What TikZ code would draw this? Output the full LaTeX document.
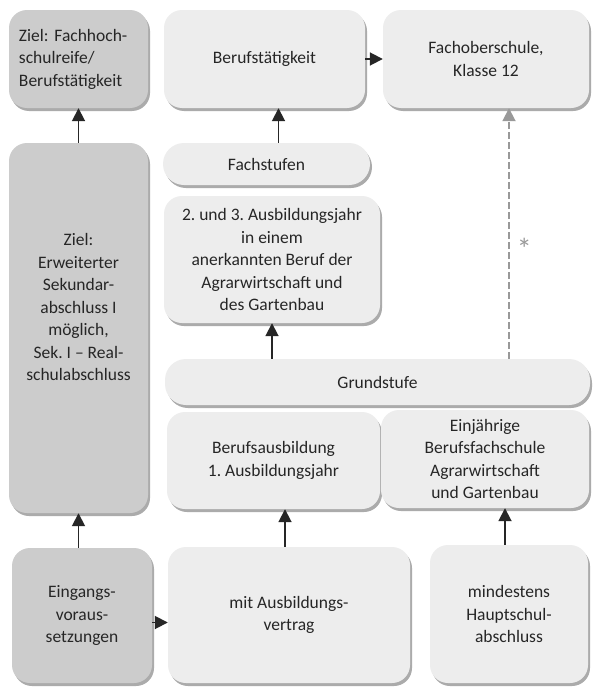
\documentclass[tikz,border=0pt]{standalone}
\usepackage{fontspec}
\setmainfont{Carlito}
\usepackage{tikz}
\usetikzlibrary{arrows.meta}
\usetikzlibrary{shadows}

\begin{document}
\begin{tikzpicture}[x=1pt, y=-1pt,
		every node/.style={font=\fontsize{17.5}{22.5}\selectfont\frenchspacing, text=black!85, align=center, inner sep=0pt},
		box/.style={rounded corners=18pt, fill=black!7,
				drop shadow={shadow xshift=2pt, shadow yshift=-3pt, opacity=0.55, fill=black!60}},
		darkbox/.style={box, fill=black!20},
		pill/.style={box, rounded corners=21pt},
		arr/.style={-{Triangle[length=13pt, width=13pt]}, line width=1.8pt, black!85},
		dasharr/.style={arr, black!40, dash pattern=on 7pt off 3pt}
	]
	\useasboundingbox[fill=white] (0,0) rectangle (594,688);

	% left column
	\node[darkbox, minimum width=139pt, minimum height=98pt, text width=119pt, align=left] (ziel1) at (78.5,59)
	{Ziel: Fachhoch-\\schulreife/\\Berufstätigkeit};
	\node[darkbox, minimum width=139pt, minimum height=370pt] (ziel2) at (78.5,328) {};
	\node (ziel2txt) at (78.5,307)
	{Ziel:\\Erweiterter\\Sekundar-\\abschluss I\\möglich,\\Sek. I -- Real-\\schulabschluss};
	\node[darkbox, minimum width=140pt, minimum height=135pt] (eing) at (82,615.5)
	{Eingangs-\\voraus-\\setzungen};

	% middle and right columns
	\node[box, minimum width=201pt, minimum height=98pt] (beruf) at (264.5,59) {Berufstätigkeit};
	\node[box, minimum width=206pt, minimum height=98pt] (fos) at (486,59) {Fachoberschule,\\Klasse 12};
	\node[pill, minimum width=207pt, minimum height=42pt] (fachst) at (266.5,164) {Fachstufen};
	\node[box, minimum width=216pt, minimum height=127pt] (ausb23) at (272,259.5)
	{2. und 3. Ausbildungsjahr\\in einem\\anerkannten Beruf der\\Agrarwirtschaft und\\des Gartenbau};
	\node[pill, minimum width=425pt, minimum height=46pt] (grund) at (377.5,382) {Grundstufe};
	\node[box, minimum width=213pt, minimum height=97pt] (bausb) at (273.5,460.5)
	{Berufsausbildung\\1. Ausbildungsjahr};
	\node[box, minimum width=208pt, minimum height=98pt] (einj) at (485,459)
	{Einjährige\\Berufsfachschule\\Agrarwirtschaft\\und Gartenbau};
	\node[box, minimum width=242pt, minimum height=136pt] (vertr) at (289,615)
	{mit Ausbildungs-\\vertrag};
	\node[box, minimum width=158pt, minimum height=138pt] (hs) at (509,614)
	{mindestens\\Hauptschul-\\abschluss};

	% arrows
	\draw[arr] (ziel2.north) -- (ziel1.south);
	\draw[arr] (eing.north -| ziel2.south) -- (ziel2.south);
	\draw[arr] ([yshift=-7pt]eing.east) -- ([yshift=-7pt]eing.east -| vertr.west);
	\draw[arr] ([xshift=-4pt]vertr.north) -- ([xshift=-4pt]vertr.north |- bausb.south);
	\draw[arr] ([xshift=-4pt]hs.north) -- ([xshift=-4pt]hs.north |- einj.south);
	\draw[arr] (grund.north -| ausb23.south) -- (ausb23.south);
	\draw[arr] ([xshift=12pt]fachst.north) -- ([xshift=12pt]fachst.north |- beruf.south);
	\draw[arr] (beruf.east) -- (fos.west);

	% dashed route to Fachoberschule
	\draw[dasharr] (grund.north -| hs.north) -- (hs.north |- fos.south)
	node[pos=0.44, right=7pt, text=black!40, font=\fontsize{30}{30}\selectfont] (stern) {*};
\end{tikzpicture}
\end{document}
